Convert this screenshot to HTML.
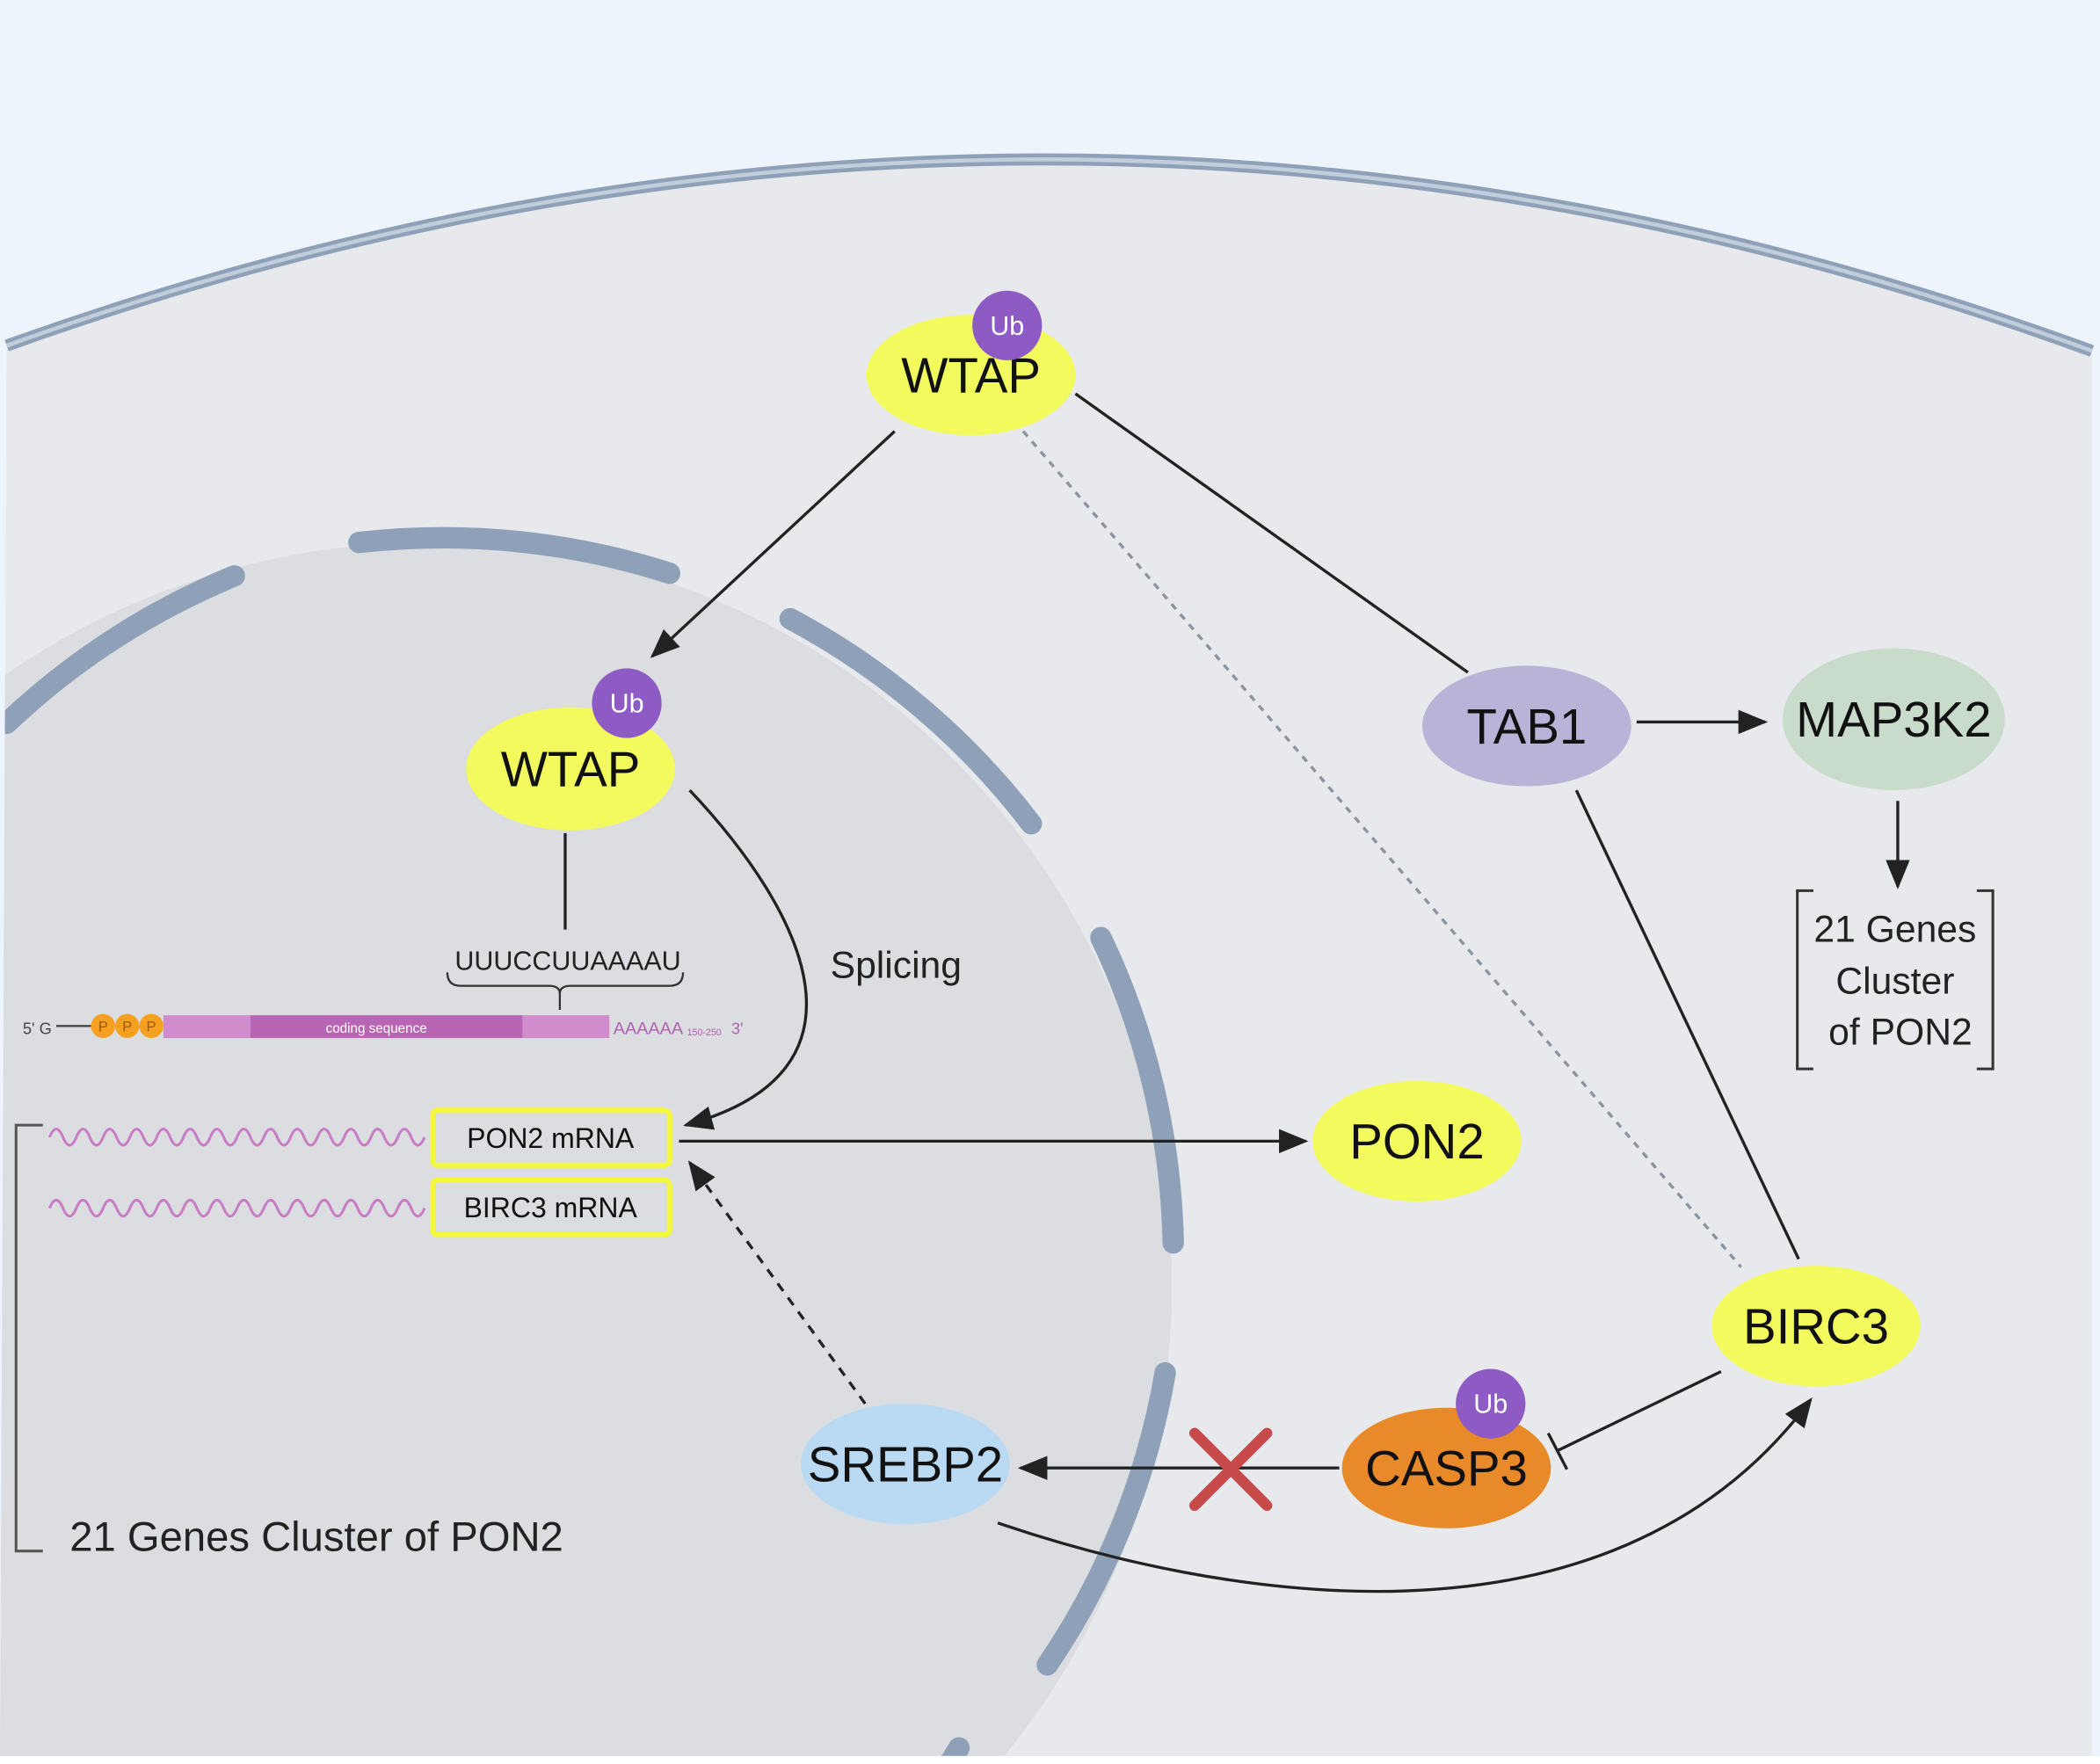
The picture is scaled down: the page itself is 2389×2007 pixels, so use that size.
<!DOCTYPE html>
<html><head><meta charset="utf-8"><style>
html,body{margin:0;padding:0;background:#fff;width:2389px;height:2007px;overflow:hidden;}
svg{display:block;}
text{font-family:"Liberation Sans",sans-serif;}
</style></head><body>
<svg width="2389" height="2007" viewBox="0 0 1568 1317" preserveAspectRatio="none" xmlns="http://www.w3.org/2000/svg">
<defs>
<marker id="arb" markerWidth="22" markerHeight="22" refX="20" refY="11" orient="auto" markerUnits="userSpaceOnUse" viewBox="0 0 22 22">
<path d="M0,2 L22,11 L0,20 z" fill="#222"/></marker>
<clipPath id="cell"><path d="M5,258 Q785,-22 1562,262 L1562,1311 L0,1311 Z"/></clipPath>
</defs>
<rect x="0" y="0" width="1568" height="1317" fill="#eef4fb"/>
<rect x="0" y="1311" width="1568" height="6" fill="#fff"/>
<path d="M5,258 Q785,-22 1562,262 L1562,1311 L0,1311 Z" fill="#e8e9ec"/>
<path d="M5,258 Q785,-22 1562,262" fill="none" stroke="#8fa1b8" stroke-width="9"/>
<path d="M5,258 Q785,-22 1562,262" fill="none" stroke="#c3cedc" stroke-width="3"/>
<g clip-path="url(#cell)">
<circle cx="320" cy="960" r="555" fill="#dcdde1"/>
<g fill="none" stroke="#8fa1b8" stroke-width="16" stroke-linecap="round">
<path d="M5,540 A555,555 0 0 1 175,430"/>
<path d="M268,405 A555,555 0 0 1 500,428"/>
<path d="M590,462 A555,555 0 0 1 770,615"/>
<path d="M822,700 A555,555 0 0 1 876,928"/>
<path d="M870,1025 A555,555 0 0 1 782,1243"/>
<path d="M716,1305 A555,555 0 0 1 708,1318"/>
</g>
</g>
<g stroke="#222" stroke-width="2.2" fill="none">
<line x1="668" y1="322" x2="487" y2="490" marker-end="url(#arb)"/>
<line x1="803" y1="294" x2="1096" y2="502"/>
<line x1="764" y1="322" x2="1300" y2="946" stroke="#8a93a0" stroke-dasharray="5,5"/>
<line x1="1222" y1="539" x2="1318" y2="539" marker-end="url(#arb)"/>
<line x1="1417" y1="598" x2="1417" y2="662" marker-end="url(#arb)"/>
<line x1="1177" y1="590" x2="1343" y2="940"/>
<line x1="422" y1="622" x2="422" y2="694"/>
<path d="M515,590 C600,680 660,800 512,840" marker-end="url(#arb)"/>
<line x1="507" y1="852" x2="975" y2="852" marker-end="url(#arb)"/>
<line x1="646" y1="1048" x2="515" y2="868" stroke-dasharray="7,6" marker-end="url(#arb)"/>
<line x1="1000" y1="1096" x2="762" y2="1096" marker-end="url(#arb)"/>
<line x1="1285" y1="1024" x2="1163" y2="1083"/>
<line x1="1156" y1="1070" x2="1170" y2="1097"/>
<path d="M745,1137 C900,1190 1200,1250 1352,1045" marker-end="url(#arb)"/>
</g>
<g stroke="#c74a4a" stroke-width="8" stroke-linecap="round">
<line x1="892" y1="1070" x2="946" y2="1124"/><line x1="946" y1="1070" x2="892" y2="1124"/>
</g>
<path d="M32,840 L12,840 L12,1158 L32,1158" fill="none" stroke="#555" stroke-width="2"/>
<text x="52" y="1158" font-size="31" fill="#222">21 Genes Cluster of PON2</text>
<path d="M1354,665 L1342,665 L1342,798 L1354,798 M1476,665 L1488,665 L1488,798 L1476,798" fill="none" stroke="#333" stroke-width="2"/>
<text x="1415" y="703" font-size="28" fill="#222" text-anchor="middle">21 Genes</text>
<text x="1415" y="742" font-size="28" fill="#222" text-anchor="middle">Cluster</text>
<text x="1419" y="780" font-size="28" fill="#222" text-anchor="middle">of PON2</text>
<text x="620" y="730" font-size="28" fill="#222">Splicing</text>
<text x="424" y="724" font-size="20" fill="#222" text-anchor="middle">UUUCCUUAAAAU</text>
<path d="M334,726 Q334,736 344,736 L410,736 Q418,736 418,742 Q418,736 426,736 L500,736 Q510,736 510,726" fill="none" stroke="#333" stroke-width="1.5"/>
<line x1="418" y1="740" x2="418" y2="754" stroke="#333" stroke-width="1.5"/>
<text x="17" y="772" font-size="12" fill="#444">5' G</text>
<line x1="42" y1="766" x2="68" y2="766" stroke="#444" stroke-width="1.5"/>
<g fill="#f5a020"><circle cx="77" cy="766" r="9"/><circle cx="95" cy="766" r="9"/><circle cx="113" cy="766" r="9"/></g>
<g font-size="11" fill="#a05a00" text-anchor="middle"><text x="77" y="770">P</text><text x="95" y="770">P</text><text x="113" y="770">P</text></g>
<rect x="122" y="758" width="333" height="17" fill="#d08ccc"/>
<rect x="187" y="758" width="203" height="17" fill="#b866b4"/>
<text x="281" y="771" font-size="10" fill="#fff" text-anchor="middle">coding sequence</text>
<text x="458" y="772" font-size="13" fill="#b060b0">AAAAAA</text>
<text x="513" y="773" font-size="7" fill="#b060b0">150-250</text>
<text x="546" y="772" font-size="12" fill="#b060b0">3'</text>
<path d="M37,849 q5,-12 10,0 t10,0 t10,0 t10,0 t10,0 t10,0 t10,0 t10,0 t10,0 t10,0 t10,0 t10,0 t10,0 t10,0 t10,0 t10,0 t10,0 t10,0 t10,0 t10,0 t10,0 t10,0 t10,0 t10,0 t10,0 t10,0 t10,0 t10,0" fill="none" stroke="#c77cc4" stroke-width="2"/>
<path d="M37,902 q5,-12 10,0 t10,0 t10,0 t10,0 t10,0 t10,0 t10,0 t10,0 t10,0 t10,0 t10,0 t10,0 t10,0 t10,0 t10,0 t10,0 t10,0 t10,0 t10,0 t10,0 t10,0 t10,0 t10,0 t10,0 t10,0 t10,0 t10,0 t10,0" fill="none" stroke="#c77cc4" stroke-width="2"/>
<rect x="323" y="829" width="177" height="41" rx="4" fill="#dcdde1" stroke="#f3f83c" stroke-width="4"/>
<rect x="323" y="881" width="177" height="41" rx="4" fill="#dcdde1" stroke="#f3f83c" stroke-width="4"/>
<text x="411" y="857" font-size="21" fill="#111" text-anchor="middle">PON2 mRNA</text>
<text x="411" y="909" font-size="21" fill="#111" text-anchor="middle">BIRC3 mRNA</text>
<g font-size="37" text-anchor="middle" fill="#111">
<ellipse cx="725" cy="280" rx="78" ry="45" fill="#f2fa5e"/><text x="725" y="293">WTAP</text>
<ellipse cx="426" cy="574" rx="78" ry="46" fill="#f2fa5e"/><text x="426" y="587">WTAP</text>
<ellipse cx="1140" cy="542" rx="78" ry="45" fill="#b9b3d8"/><text x="1140" y="555">TAB1</text>
<ellipse cx="1414" cy="537" rx="83" ry="53" fill="#c9dccb"/><text x="1414" y="550">MAP3K2</text>
<ellipse cx="1058" cy="852" rx="78" ry="45" fill="#f2fa5e"/><text x="1058" y="865">PON2</text>
<ellipse cx="1356" cy="990" rx="78" ry="45" fill="#f2fa5e"/><text x="1356" y="1003">BIRC3</text>
<ellipse cx="1080" cy="1096" rx="78" ry="45" fill="#e8892a"/><text x="1080" y="1109">CASP3</text>
<ellipse cx="676" cy="1093" rx="78" ry="45" fill="#b9daf2"/><text x="676" y="1106">SREBP2</text>
</g>
<g font-size="20" text-anchor="middle" fill="#fff">
<circle cx="752" cy="243" r="26" fill="#8e5bc4"/><text x="752" y="250">Ub</text>
<circle cx="468" cy="525" r="26" fill="#8e5bc4"/><text x="468" y="532">Ub</text>
<circle cx="1113" cy="1048" r="26" fill="#8e5bc4"/><text x="1113" y="1055">Ub</text>
</g>
</svg>
</body></html>
